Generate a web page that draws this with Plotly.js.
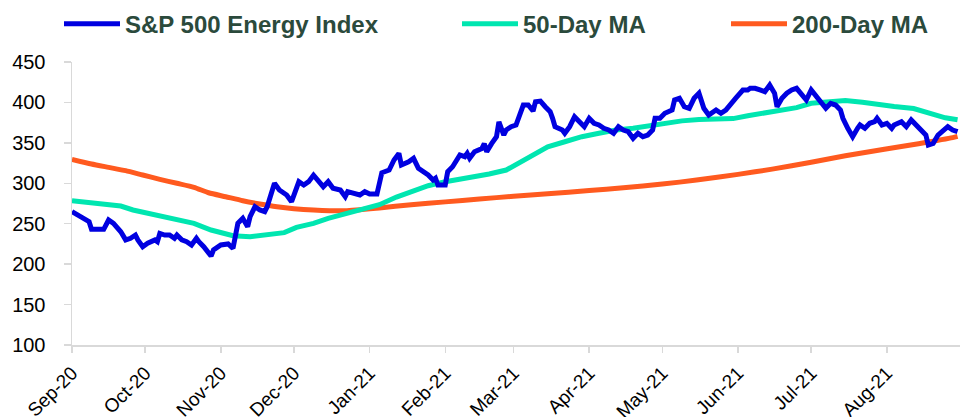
<!DOCTYPE html>
<html>
<head>
<meta charset="utf-8">
<script src="https://cdn.plot.ly/plotly-3.0.1.min.js"></script>
<style>html,body{margin:0;padding:0;background:#fff;}#chart{width:960px;height:417px;}</style>
</head>
<body>
<div id="chart"></div>
<script>
// ---- DATA ----
const seriesNames = ["S&P 500 Energy Index", "50-Day MA", "200-Day MA"];

const indexDates = ["2020-09-01","2020-09-05","2020-09-08","2020-09-09","2020-09-13","2020-09-14","2020-09-16","2020-09-18","2020-09-21","2020-09-23","2020-09-25","2020-09-27","2020-09-28","2020-09-30","2020-10-02","2020-10-05","2020-10-06","2020-10-07","2020-10-09","2020-10-11","2020-10-13","2020-10-14","2020-10-16","2020-10-18","2020-10-20","2020-10-22","2020-10-23","2020-10-25","2020-10-28","2020-10-29","2020-11-01","2020-11-04","2020-11-06","2020-11-07","2020-11-08","2020-11-10","2020-11-12","2020-11-13","2020-11-15","2020-11-17","2020-11-19","2020-11-20","2020-11-21","2020-11-23","2020-11-25","2020-11-28","2020-11-30","2020-12-02","2020-12-03","2020-12-05","2020-12-07","2020-12-09","2020-12-11","2020-12-13","2020-12-15","2020-12-17","2020-12-20","2020-12-22","2020-12-23","2020-12-26","2020-12-28","2020-12-30","2021-01-01","2021-01-04","2021-01-05","2021-01-06","2021-01-09","2021-01-11","2021-01-13","2021-01-14","2021-01-17","2021-01-19","2021-01-21","2021-01-23","2021-01-25","2021-01-27","2021-01-28","2021-01-29","2021-02-01","2021-02-02","2021-02-04","2021-02-07","2021-02-09","2021-02-10","2021-02-11","2021-02-13","2021-02-16","2021-02-17","2021-02-18","2021-02-20","2021-02-22","2021-02-23","2021-02-25","2021-02-26","2021-02-28","2021-03-02","2021-03-04","2021-03-05","2021-03-07","2021-03-09","2021-03-10","2021-03-12","2021-03-14","2021-03-16","2021-03-17","2021-03-18","2021-03-21","2021-03-22","2021-03-24","2021-03-26","2021-03-28","2021-03-30","2021-04-01","2021-04-03","2021-04-05","2021-04-07","2021-04-09","2021-04-11","2021-04-13","2021-04-15","2021-04-17","2021-04-19","2021-04-21","2021-04-23","2021-04-25","2021-04-27","2021-04-28","2021-04-30","2021-05-02","2021-05-05","2021-05-06","2021-05-08","2021-05-10","2021-05-12","2021-05-14","2021-05-16","2021-05-18","2021-05-20","2021-05-23","2021-05-25","2021-05-27","2021-05-29","2021-05-31","2021-06-03","2021-06-05","2021-06-06","2021-06-08","2021-06-10","2021-06-12","2021-06-14","2021-06-16","2021-06-17","2021-06-19","2021-06-21","2021-06-23","2021-06-25","2021-06-27","2021-06-29","2021-07-01","2021-07-03","2021-07-05","2021-07-07","2021-07-09","2021-07-11","2021-07-13","2021-07-14","2021-07-16","2021-07-18","2021-07-20","2021-07-21","2021-07-23","2021-07-25","2021-07-27","2021-07-28","2021-07-30","2021-08-01","2021-08-03","2021-08-04","2021-08-07","2021-08-09","2021-08-11","2021-08-13","2021-08-15","2021-08-17","2021-08-18","2021-08-20","2021-08-22","2021-08-24","2021-08-26","2021-08-28","2021-08-30"];
const indexValues = [265,257,252.5,243,244,243,254.6,250.5,240,230,232,236,230,221.6,225.8,230,227.8,238,236,236,232,236,230,227.8,223.7,232,227.8,221.6,210,217.5,223.7,225,219.6,232,250.5,256.7,246.3,258.7,271,267,265,271,281.4,300,291.7,285.5,277.2,291.7,302,297.9,302,310,302,295.8,302,293.8,291.7,283.4,289.6,287.6,285.5,289.6,286.7,286.7,304,313,316.4,328.8,337,322.6,326.7,330.9,318.5,314.3,310.2,304,306.2,297.9,297.9,314.3,320.5,335,332.9,337,330.9,339,343,349,339,349,357.6,376,359.7,366,370,372,388.5,396.8,396.8,389.4,400.9,401.7,394.7,388.5,380.4,370,365.9,361.8,370,382.3,376.2,370,380.4,374.2,372.1,368,365.9,361.8,370,365.9,363.8,355.6,361.8,357.6,359.7,365.9,380.4,380.4,386.5,390.6,403,405.1,394.7,392.7,405.1,411.3,392.7,384.4,390.6,386.5,390.6,396.8,405.1,415.4,415.4,417.5,417.5,415.4,413.3,421.5,411.3,394.7,405.1,411.3,415.4,417.5,409.2,403,415.4,407.1,400.9,392.7,398.9,396.8,390.6,380.4,368,357.6,368,372.1,368,374.2,376.2,380.4,372.1,374.2,368,372.1,376.2,370,378.3,372.1,365.9,359.7,347.3,349.4,359.7,365.9,370,365.9,363.8];

const ma50Dates = ["2020-09-01","2020-09-13","2020-09-21","2020-09-26","2020-10-05","2020-10-13","2020-10-21","2020-10-28","2020-11-02","2020-11-06","2020-11-13","2020-11-20","2020-11-27","2020-12-02","2020-12-09","2020-12-15","2020-12-22","2020-12-29","2021-01-05","2021-01-12","2021-01-19","2021-01-25","2021-02-01","2021-02-12","2021-02-19","2021-02-26","2021-03-04","2021-03-10","2021-03-15","2021-03-22","2021-03-29","2021-04-05","2021-04-12","2021-04-19","2021-04-25","2021-05-02","2021-05-09","2021-05-16","2021-05-23","2021-05-30","2021-06-05","2021-06-11","2021-06-18","2021-06-25","2021-07-01","2021-07-08","2021-07-15","2021-07-22","2021-07-29","2021-08-04","2021-08-12","2021-08-18","2021-08-25","2021-08-30"];
const ma50Values = [278.5,275.2,271.9,267,260.8,255.4,250.5,242.2,238.1,235.2,234,236,239,245.5,250.5,256.7,262,267.8,273.5,283,290,297,302,307.4,311.5,316.4,326,336.5,345.2,351.4,357.6,361.8,365.9,368,371,374,377.2,379,379.1,380,383.5,386.5,390,393.5,399,401.5,402.5,400.2,397,395,392.5,387.5,381,378.5];

const ma200Dates = ["2020-09-01","2020-09-09","2020-09-16","2020-09-23","2020-09-30","2020-10-07","2020-10-14","2020-10-21","2020-10-27","2020-11-03","2020-11-10","2020-11-17","2020-11-24","2020-12-01","2020-12-09","2020-12-22","2021-01-05","2021-01-18","2021-02-01","2021-02-15","2021-03-01","2021-03-15","2021-04-01","2021-04-15","2021-05-01","2021-05-15","2021-06-01","2021-06-15","2021-07-01","2021-07-15","2021-07-31","2021-08-14","2021-08-28","2021-08-30"];
const ma200Values = [329.6,323.8,319.7,315.6,310.2,304.9,300,295,288.3,283.4,278.4,274.4,271,268.6,267,266,269.5,273.5,277,280.5,284,287,291,294.5,299,304,311,317.5,326,334,342,349,356.5,358];

const yTicks = [100,150,200,250,300,350,400,450];

// ---- CHART ----
const colors = {index:"#0000E0", ma50:"#00E6B0", ma200:"#FF5A1F"};
const legendFont = {family:"Liberation Sans, Arial, sans-serif", size:24, color:"#2B4A3C", weight:700};

const traces = [
  {x: ma200Dates, y: ma200Values, name: seriesNames[2], type:"scatter", mode:"lines",
   line:{color:colors.ma200, width:5, shape:"spline", smoothing:0.6}, legend:"legend3"},
  {x: ma50Dates, y: ma50Values, name: seriesNames[1], type:"scatter", mode:"lines",
   line:{color:colors.ma50, width:5}, legend:"legend2"},
  {x: indexDates, y: indexValues, name: seriesNames[0], type:"scatter", mode:"lines",
   line:{color:colors.index, width:5}, legend:"legend"}
];

function legendAt(px){
  return {x:(px-72)/888, xanchor:"left", y:1.134, yanchor:"middle", orientation:"h",
          font:legendFont, itemwidth:56, bgcolor:"rgba(0,0,0,0)", borderwidth:0};
}

const layout = {
  width:960, height:417,
  margin:{l:72, r:0, t:62, b:72},
  paper_bgcolor:"#fff", plot_bgcolor:"#fff",
  font:{family:"Liberation Sans, Arial, sans-serif", color:"#000"},
  showlegend:true,
  legend: legendAt(59),
  legend2: legendAt(457),
  legend3: legendAt(726),
  xaxis:{
    type:"date", range:["2020-09-01","2021-08-31"],
    tick0:"2020-09-01", dtick:"M1", tickformat:"%b-%y", tickangle:-45,
    ticks:"outside", ticklen:6, tickcolor:"#D9D9D9", tickwidth:1.5,
    showline:true, linecolor:"#D9D9D9", linewidth:1.5,
    showgrid:false, zeroline:false, ticklabelstandoff:2,
    tickfont:{size:19, color:"#000"}
  },
  yaxis:{
    range:[100,450], tickvals:yTicks,
    ticks:"outside", ticklen:7, tickcolor:"#D9D9D9", tickwidth:1.5,
    showline:true, linecolor:"#D9D9D9", linewidth:1.5,
    showgrid:false, zeroline:false, ticklabelstandoff:14,
    tickfont:{size:20, color:"#000"}
  }
};

Plotly.newPlot("chart", traces, layout, {displayModeBar:false, staticPlot:true});
</script>
</body>
</html>
